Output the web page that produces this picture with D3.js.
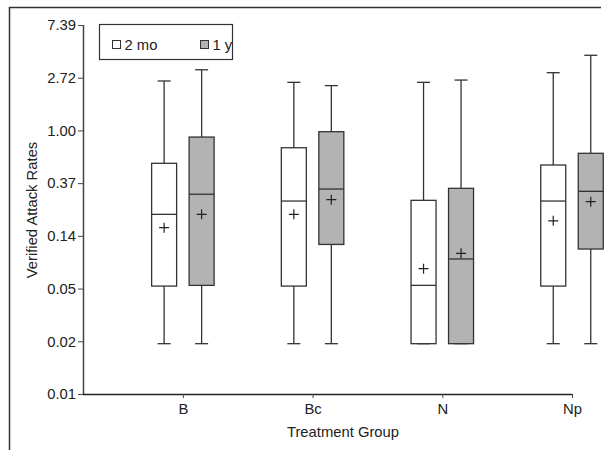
<!DOCTYPE html>
<html>
<head>
<meta charset="utf-8">
<script src="https://cdn.jsdelivr.net/npm/d3@7"></script>
<style>
  body { margin: 0; background: #fff; }
  svg text { font-family: "Liberation Sans", Arial, sans-serif; fill: #222; }
</style>
</head>
<body>
<div id="chart"></div>
<script>
// data (rates, log scale base e)
const groups = ["B", "Bc", "N", "Np"]
const periods = ["2 mo", "1 y"]
const lowWhisker = [[0.0175, 0.0175], [0.0175, 0.0175], [0.0175, 0.0175], [0.0175, 0.0175]]
const q1 = [[0.0522, 0.0529], [0.0522, 0.115], [0.0175, 0.0175], [0.0522, 0.1054]]
const median = [[0.2035, 0.298], [0.262, 0.329], [0.0529, 0.0873], [0.262, 0.315]]
const mean = [[0.158, 0.2035], [0.2035, 0.269], [0.0726, 0.0972], [0.18, 0.259]]
const q3 = [[0.536, 0.882], [0.72, 0.976], [0.2655, 0.3335], [0.519, 0.648]]
const highWhisker = [[2.555, 3.16], [2.49, 2.34], [2.49, 2.6], [2.99, 4.16]]
const tickPowers = [-5, -4, -3, -2, -1, 0, 1, 2]
const fills = ["#ffffff", "#b3b3b3"]

const width = 610, height = 450
const fs = 14.8

const svg = d3.select("#chart").append("svg")
  .attr("width", width)
  .attr("height", height)

// outer frame (left + top only)
svg.append("path")
  .attr("d", "M9.5,450 V7.5 H601")
  .attr("fill", "none")
  .attr("stroke", "#333")
  .attr("stroke-width", 1.5)

const y = d3.scaleLog().base(Math.E)
  .domain([Math.exp(-5), Math.exp(2)])
  .range([394, 25])

// categories sit on index 0..3, axis starts a bit left of the first one
const x = d3.scaleLinear().domain([-0.77, 3]).range([83, 572])

const offset = d3.scalePoint().domain(periods).range([-18.75, 18.75])
const boxW = 25

// y axis
const yAxis = d3.axisLeft(y)
  .tickValues(tickPowers.map(p => Math.exp(p)))
  .tickFormat(d => d.toFixed(2))
  .tickSize(5)
  .tickPadding(2)
svg.append("g")
  .attr("transform", "translate(83,0)")
  .call(yAxis)
  .call(g => g.select(".domain").attr("stroke", "#444").attr("stroke-width", 1.5).attr("d", "M0.5,25V394.5"))
  .call(g => g.selectAll(".tick line").attr("stroke", "#444"))
  .call(g => g.selectAll(".tick text").attr("font-size", fs).attr("fill", "#222"))

// x axis
const xAxis = d3.axisBottom(x)
  .tickValues(d3.range(groups.length))
  .tickFormat(i => groups[i])
  .tickSize(4)
  .tickPadding(5)
svg.append("g")
  .attr("transform", "translate(0,394)")
  .call(xAxis)
  .call(g => g.select(".domain").attr("stroke", "#222").attr("stroke-width", 1.5).attr("d", "M83,0.5H572.5"))
  .call(g => g.selectAll(".tick line").attr("stroke", "#444"))
  .call(g => g.selectAll(".tick text").attr("font-size", fs).attr("fill", "#222"))

// axis titles
svg.append("text")
  .attr("transform", "translate(37,210) rotate(-90)")
  .attr("text-anchor", "middle")
  .attr("font-size", fs)
  .text("Verified Attack Rates")

svg.append("text")
  .attr("x", 343)
  .attr("y", 437)
  .attr("text-anchor", "middle")
  .attr("font-size", fs)
  .text("Treatment Group")

// build flat list of boxes
const boxes = []
groups.forEach((g, i) => {
  periods.forEach((p, j) => {
    boxes.push({
      gi: i, pj: j, period: p,
      lo: lowWhisker[i][j], q1: q1[i][j], med: median[i][j],
      mean: mean[i][j], q3: q3[i][j], hi: highWhisker[i][j]
    })
  })
})

const bx = svg.append("g").selectAll("g")
  .data(boxes)
  .join("g")
  .attr("transform", d => "translate(" + (x(d.gi) + offset(d.period)) + ",0)")

// whiskers
bx.append("line")
  .attr("x1", 0).attr("x2", 0)
  .attr("y1", d => y(d.hi)).attr("y2", d => y(d.q3))
  .attr("stroke", "#333").attr("stroke-width", 1.3)
bx.append("line")
  .attr("x1", 0).attr("x2", 0)
  .attr("y1", d => y(d.q1)).attr("y2", d => y(d.lo))
  .attr("stroke", "#333").attr("stroke-width", 1.3)
// caps
bx.selectAll(".cap")
  .data(d => [d.hi, d.lo])
  .join("line")
  .attr("class", "cap")
  .attr("x1", -6.5).attr("x2", 6.5)
  .attr("y1", v => y(v)).attr("y2", v => y(v))
  .attr("stroke", "#333").attr("stroke-width", 1.3)

// box
bx.append("rect")
  .attr("x", -boxW / 2)
  .attr("width", boxW)
  .attr("y", d => y(d.q3))
  .attr("height", d => y(d.q1) - y(d.q3))
  .attr("fill", d => fills[d.pj])
  .attr("stroke", "#333")
  .attr("stroke-width", 1.3)

// median
bx.append("line")
  .attr("x1", -boxW / 2).attr("x2", boxW / 2)
  .attr("y1", d => y(d.med)).attr("y2", d => y(d.med))
  .attr("stroke", "#333").attr("stroke-width", 1.3)

// mean marker
bx.append("path")
  .attr("d", d => "M-5," + y(d.mean) + "H5M0," + (y(d.mean) - 5) + "V" + (y(d.mean) + 5))
  .attr("stroke", "#222").attr("stroke-width", 1.2)

// legend
const legend = svg.append("g")
legend.append("rect")
  .attr("x", 99.5).attr("y", 24.5)
  .attr("width", 133).attr("height", 35)
  .attr("fill", "#fff").attr("stroke", "#333").attr("stroke-width", 1.2)

const legX = [112, 200]
const items = legend.selectAll(".item")
  .data(periods)
  .join("g")
  .attr("class", "item")
  .attr("transform", (d, i) => "translate(" + legX[i] + ",40)")
items.append("rect")
  .attr("x", 0.5).attr("y", 0.5)
  .attr("width", 8).attr("height", 8)
  .attr("fill", (d, i) => fills[i])
  .attr("stroke", "#333")
items.append("text")
  .attr("x", 12.5)
  .attr("y", 10)
  .attr("font-size", fs)
  .text(d => d)
</script>
</body>
</html>
